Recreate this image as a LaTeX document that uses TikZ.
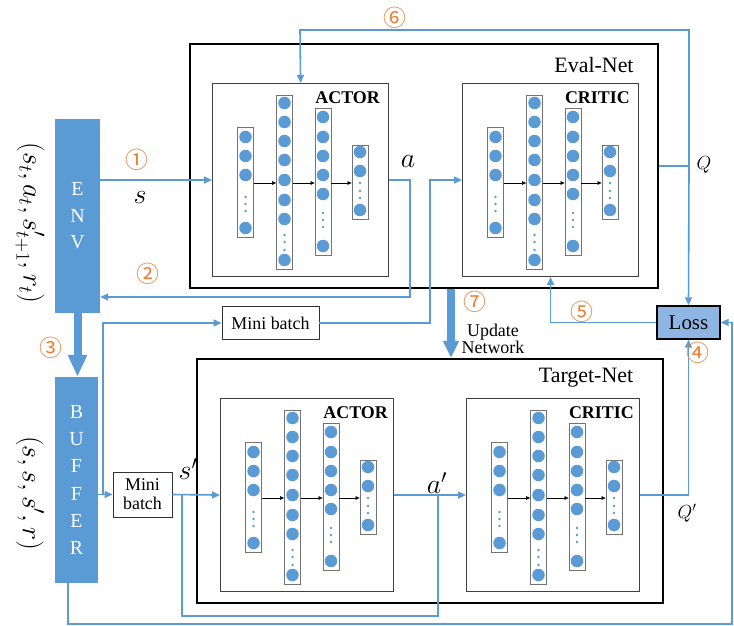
\documentclass[tikz,border=0pt]{standalone}
\usepackage{fix-cm}
\usepackage{fontspec}
\setmainfont{Liberation Serif}
\newfontfamily\cjk{Noto Sans CJK SC}
\usetikzlibrary{arrows.meta,calc}
\definecolor{lineblue}{RGB}{91,155,213}
\definecolor{numorange}{RGB}{237,125,49}
\definecolor{lossfill}{RGB}{143,182,226}
\definecolor{boxgray}{RGB}{64,64,64}
\tikzset{
 bline/.style={draw=lineblue, line width=1.6bp},
 flow/.style={bline, -{Triangle[length=8bp,width=7bp]}},
 bigarrow/.style={draw=lineblue, line width=8bp, -{Triangle[length=22bp,width=18bp]}},
 outerbox/.style={draw=black, line width=2.2bp, inner sep=0},
 innerbox/.style={draw=boxgray, line width=1.1bp, inner sep=0, minimum height=193bp},
 layerbox/.style={draw=gray!90!black, line width=0.8bp, fill=white, minimum width=16bp, inner sep=0},
 neuron/.style={circle, fill=lineblue, minimum size=12.5bp, inner sep=0},
 layarrow/.style={draw=black, line width=0.6bp, -{Triangle[length=4bp,width=3.5bp]}},
 num/.style={text=numorange, font=\cjk\fontsize{23}{25}\selectfont, inner sep=0},
 var/.style={font=\fontsize{28}{30}\selectfont, inner sep=0},
 blocktext/.style={text=white, align=center, inner sep=0},
}
\newcommand\drawnet[5]{%
  \node[innerbox, minimum width=#4bp, anchor=north west] (#1) at (#2,#3) {};
  \begin{scope}[shift={(#1.north west)}]
    \foreach \k/\cx/\tp/\bt/\cl/\dl in {1/33.5/44/154/{54,73,92,145}/{114,121,128},
        2/72.5/12/186/{20,39,58,77,97,117,136,177}/{152,159,167},
        3/111/25/172/{34,54,73,92,111,163}/{130,137,144},
        4/148/62/136/{69,88,127}/{100,108,115}}{
      \node[layerbox, minimum height={(\bt-\tp)*1bp}] (#1-l\k) at (\cx,{(\tp+\bt)/2}) {};
      \foreach \c in \cl {\node[neuron] (#1-l\k-\c) at (\cx,\c) {};}
      \foreach \d in \dl {\fill[lineblue] (\cx,\d) circle (1.3bp);}
    }
    \draw[layarrow] (#1-l1.east |- 0,100) -- (#1-l2.west |- 0,100);
    \draw[layarrow] (#1-l2.east |- 0,100) -- (#1-l3.west |- 0,100);
    \draw[layarrow] (#1-l3.east |- 0,100) -- (#1-l4.west |- 0,100);
    \node[font=\bfseries\fontsize{18}{20}\selectfont, anchor=east, inner sep=0] (#1-t) at (168,15) {#5};
  \end{scope}
}
\begin{document}
\begin{tikzpicture}[x=1bp, y=-1bp]
\fill[white] (0,0) rectangle (734,626);
\useasboundingbox (0,0) rectangle (734,626);

% outer boxes
\node[outerbox, minimum width=468bp, minimum height=244bp] (evalnet) at (424,166) {};
\node[outerbox, minimum width=466bp, minimum height=244bp] (targetnet) at (430,481) {};
\node[font=\fontsize{22}{24}\selectfont, inner sep=0] (evallbl) at (594,65) {Eval-Net};
\node[font=\fontsize{22}{24}\selectfont, inner sep=0] (targetlbl) at (586,378) {Target-Net};

% networks
\drawnet{ea}{212}{83}{176}{ACTOR}
\drawnet{ec}{462}{83}{176}{CRITIC}
\drawnet{ta}{220}{398}{173}{ACTOR}
\drawnet{tc}{466}{398}{173}{CRITIC}

% ENV and BUFFER
\node[fill=lineblue, minimum width=45bp, minimum height=194bp, blocktext,
      font=\fontsize{20}{26.5}\selectfont] (env) at (77.5,216) {E\\N\\V};
\node[fill=lineblue, minimum width=43bp, minimum height=206bp, blocktext,
      font=\fontsize{20}{27.4}\selectfont] (buf) at (76.5,480) {B\\U\\F\\F\\E\\R};
\node[var, rotate=-90] (envtuple) at (30,223) {$(s_t,a_t,s'_{t+1},r_t)$};
\node[var, rotate=-90] (buftuple) at (30,493) {$(s,s,s',r)$};

% Loss and mini batches
\node[draw=black, line width=1.4bp, fill=lossfill, minimum width=63bp, minimum height=33bp,
      inner sep=0, font=\fontsize{21}{22}\selectfont] (loss) at (688.5,322.5) {Loss};
\node[draw=black!80, line width=0.9bp, fill=white, minimum width=97bp, minimum height=33bp,
      inner sep=0, font=\fontsize{18}{20}\selectfont] (mb1) at (270.5,323) {Mini batch};
\node[draw=black!80, line width=0.9bp, fill=white, minimum width=59bp, minimum height=45bp,
      inner sep=0, align=center, font=\fontsize{18}{19}\selectfont] (mb2) at (142.5,494.5) {Mini\\batch};

% coordinates
\coordinate (c2) at (410,297);
\coordinate (k1) at (430,0);
\coordinate (j1) at (103,494.5);
\coordinate (j2) at (182,494.5);
\coordinate (j3) at (438,494.5);
\coordinate (lowA) at (0,616);
\coordinate (r1) at (68,624);
\coordinate (r2) at (732,624);
\coordinate (q1) at (689,166);
\coordinate (t6) at (300,30);
\coordinate (u) at (451,0);

% connectors
\draw[flow] (ea.west -| env.east) -- (ea.west);
\draw[flow] (ea.east) -| (c2) -- (c2 -| env.east);
\draw[bigarrow] (env.south) -- (env.south |- buf.north);
\draw[flow] (mb2.west -| buf.east) -- (mb2.west);
\draw[flow] (j1) |- (mb1.west);
\draw[flow] (mb1.east) -- (mb1.east -| k1) |- (ec.west);
\draw[flow] (mb2.east) -- (ta.west);
\draw[flow] (ta.east) -- (tc.west);
\draw[bline] (j2) |- (j3 |- lowA) -- (j3);
\draw[flow] (buf.south -| r1) -- (r1) -- (r2) |- (loss.east);
\draw[bline] (q1 -| evalnet.east) -- (q1);
\draw[flow] (q1) -- (loss.north);
\draw[flow] (q1) |- (t6) -- (ea.north);
\draw[flow] (tc.east) -| (loss.south);
\draw[flow] (loss.west) -| (ec.south);
\draw[draw=lineblue, line width=8bp, -{Triangle[length=17bp,width=15bp]}] (evalnet.south -| u) -- (targetnet.north -| u);

% variable labels
\node[var] (lbls) at (140,197) {$s$};
\node[var] (lbla) at (408,161) {$a$};
\node[var] (lblsp) at (188,469) {$s'$};
\node[var] (lblap) at (437,483) {$a'$};
\node[font=\fontsize{19}{20}\selectfont, inner sep=0] (lblq) at (704,165) {$Q$};
\node[font=\fontsize{19}{20}\selectfont, inner sep=0] (lblqp) at (687,513) {$Q'$};
\node[align=center, inner sep=0, font=\fontsize{18}{16}\selectfont] (upd) at (493,339) {Update\\Network};

% step numbers
\node[num] (n1) at (137,160) {①};
\node[num] (n2) at (148,274) {②};
\node[num] (n3) at (51,348) {③};
\node[num] (n4) at (698,353) {④};
\node[num] (n5) at (582,312) {⑤};
\node[num] (n6) at (395,18) {⑥};
\node[num] (n7) at (475,302) {⑦};
\end{tikzpicture}
\end{document}
